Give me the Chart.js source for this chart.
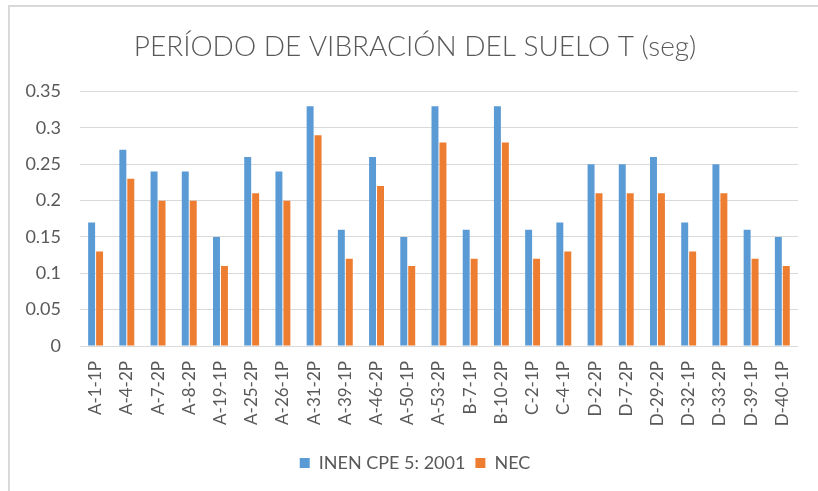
<!DOCTYPE html>
<html>
<head>
<meta charset="utf-8">
<script src="https://cdn.jsdelivr.net/npm/chart.js@4.4.1/dist/chart.umd.min.js"></script>
<style>
  html, body { margin: 0; padding: 0; background: #fff; }
  #wrap { position: relative; width: 818px; height: 491px; }
</style>
</head>
<body>
<div id="wrap"><canvas id="periodChart" width="818" height="491"></canvas></div>
<script>
// Sample points and fundamental periods (seconds)
const puntos = ['A-1-1P', 'A-4-2P', 'A-7-2P', 'A-8-2P', 'A-19-1P', 'A-25-2P', 'A-26-1P', 'A-31-2P',
  'A-39-1P', 'A-46-2P', 'A-50-1P', 'A-53-2P', 'B-7-1P', 'B-10-2P', 'C-2-1P', 'C-4-1P',
  'D-2-2P', 'D-7-2P', 'D-29-2P', 'D-32-1P', 'D-33-2P', 'D-39-1P', 'D-40-1P'];
const periodoInen = [0.17, 0.27, 0.24, 0.24, 0.15, 0.26, 0.24, 0.33, 0.16, 0.26, 0.15, 0.33,
  0.16, 0.33, 0.16, 0.17, 0.25, 0.25, 0.26, 0.17, 0.25, 0.16, 0.15];
const periodoNec = [0.13, 0.23, 0.20, 0.20, 0.11, 0.21, 0.20, 0.29, 0.12, 0.22, 0.11, 0.28,
  0.12, 0.28, 0.12, 0.13, 0.21, 0.21, 0.21, 0.13, 0.21, 0.12, 0.11];
const ejeY = { min: 0, max: 0.35, step: 0.05 };

const FONT = 'Lato, "Open Sans", sans-serif';
const GRAY_TEXT = '#595959';
const GRID = '#d9d9d9';

// light frame along the top and left edges
const framePlugin = {
  id: 'frame',
  beforeDraw(chart) {
    const ctx = chart.ctx;
    ctx.save();
    ctx.fillStyle = '#fff';
    ctx.fillRect(0, 0, chart.width, chart.height);
    ctx.fillStyle = GRID;
    ctx.fillRect(8, 5, chart.width - 8, 2);
    ctx.fillRect(8, 5, 2, chart.height - 5);
    ctx.restore();
  }
};

new Chart(document.getElementById('periodChart').getContext('2d'), {
  type: 'bar',
  data: {
    labels: puntos,
    datasets: [{
      label: 'INEN CPE 5: 2001',
      data: periodoInen,
      backgroundColor: '#5B9BD5',
      borderWidth: 0
    }, {
      label: 'NEC',
      data: periodoNec,
      backgroundColor: '#ED7D31',
      borderWidth: 0
    }]
  },
  options: {
    responsive: false,
    animation: false,
    devicePixelRatio: 1,
    layout: {
      padding: { left: 25, right: 13, top: 0, bottom: 9 }
    },
    datasets: {
      bar: {
        categoryPercentage: 0.51,
        barPercentage: 0.875
      }
    },
    plugins: {
      title: {
        display: true,
        text: 'PERÍODO DE VIBRACIÓN DEL SUELO T (seg)',
        color: GRAY_TEXT,
        font: { family: FONT, size: 28, weight: '300' },
        padding: { top: 30, bottom: 28 }
      },
      legend: {
        position: 'bottom',
        labels: {
          color: GRAY_TEXT,
          font: { family: FONT, size: 18 },
          boxWidth: 10,
          boxHeight: 10,
          padding: 10
        }
      },
      tooltip: { enabled: false }
    },
    scales: {
      x: {
        grid: { display: false, drawTicks: false },
        border: { display: false },
        ticks: {
          color: GRAY_TEXT,
          font: { family: FONT, size: 17 },
          minRotation: 90,
          maxRotation: 90,
          autoSkip: false,
          padding: 15
        },
        afterFit(scale) {
          scale.height = 98;
        }
      },
      y: {
        min: ejeY.min,
        max: ejeY.max,
        grid: { color: GRID, lineWidth: 1, drawTicks: false },
        border: { display: false },
        ticks: {
          stepSize: ejeY.step,
          color: GRAY_TEXT,
          font: { family: FONT, size: 18 },
          padding: 19,
          callback: function(value) {
            return String(Number(value.toFixed(2)));
          }
        },
        afterFit(scale) {
          scale.width = 55;
        }
      }
    }
  },
  plugins: [framePlugin]
});
</script>
</body>
</html>
